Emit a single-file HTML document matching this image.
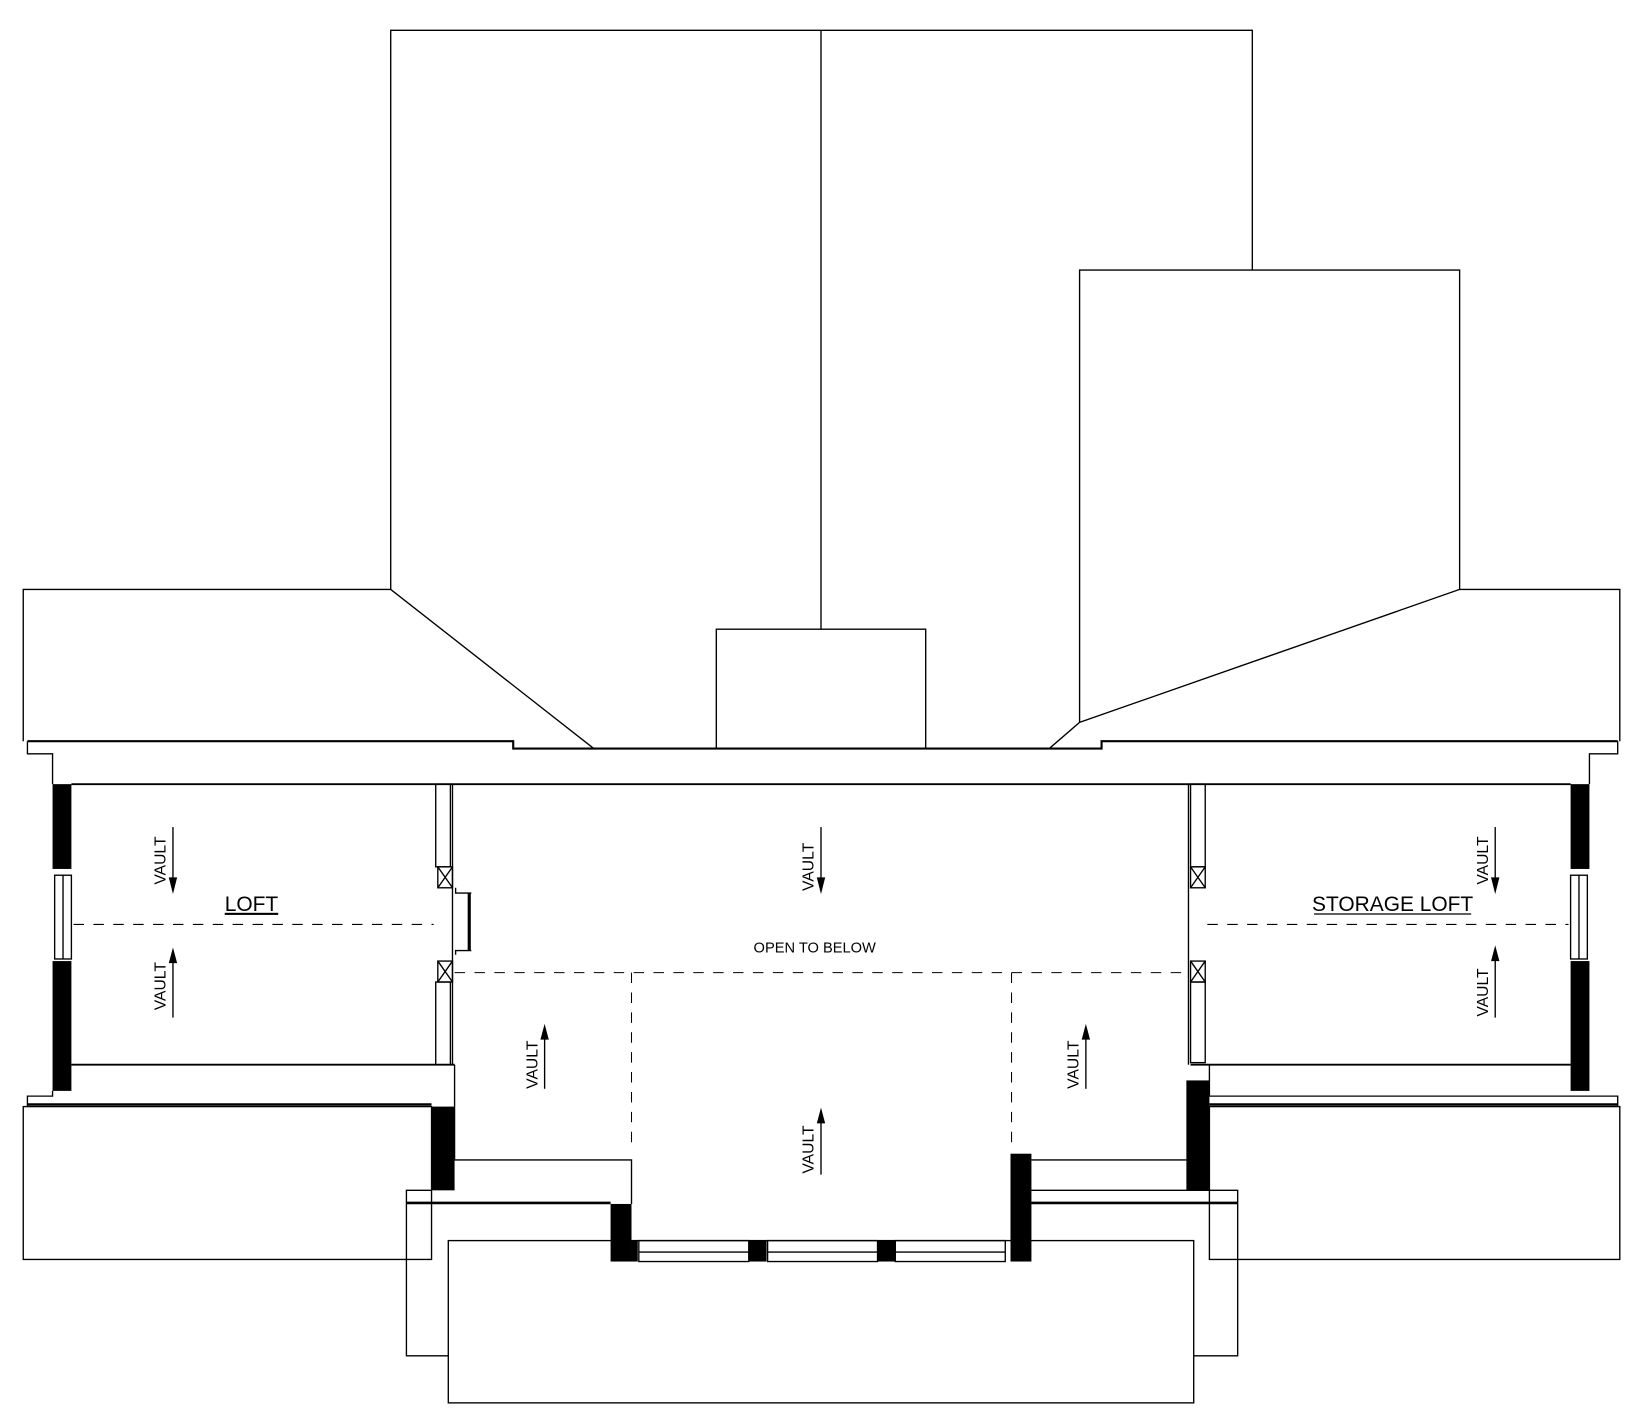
<!DOCTYPE html>
<html><head><meta charset="utf-8"><style>
html,body{margin:0;padding:0;background:#fff;}
svg{display:block;}
text{font-family:"Liberation Sans",sans-serif;fill:#000;}
</style></head><body>
<svg width="1642" height="1428" viewBox="0 0 1568 1364" xmlns="http://www.w3.org/2000/svg">
<g fill="none" stroke="#000" stroke-width="1.3">
<!-- top roof -->
<path d="M373,563 L373,29 L1196,29 L1196,258"/>
<line x1="784" y1="29" x2="784" y2="601"/>
<path d="M1031,690 L1031,258 L1394,258 L1394,563"/>
<!-- wide band -->
<path d="M22,708 L22,563 L373,563 L567,715"/>
<path d="M1002,715 L1031,690 L1394,563 L1547,563 L1547,708"/>
<rect x="684" y="601" width="200" height="114"/>
<!-- eave lines -->
<path d="M26,708 L490,708 L490,715 L1052,715 L1052,708 L1545,708" stroke-width="2"/>
<path d="M26,708 L26,720 L50,720 L50,749"/>
<path d="M1545,708 L1545,720 L1518,720 L1518,749"/>
<line x1="68" y1="749" x2="1500" y2="749" stroke-width="1.8"/>
<!-- left loft -->
<line x1="68" y1="1017" x2="434" y2="1017" stroke-width="1.8"/>
<line x1="434" y1="1017" x2="434" y2="1057"/>
<rect x="416" y="749" width="14" height="79"/>
<rect x="416" y="938" width="14" height="79"/>
<line x1="432" y1="749" x2="432" y2="1017"/>
<rect x="418" y="828" width="14" height="20"/><path d="M418,828 L432,848 M432,828 L418,848"/>
<rect x="418" y="918" width="14" height="20"/><path d="M418,918 L432,938 M432,918 L418,938"/>
<path d="M435,848 L435,853 L450,853 M435,912 L435,908 L450,908"/>
<line x1="448" y1="853" x2="448" y2="908" stroke-width="3"/>
<!-- left lower -->
<path d="M26,1057 L26,1047 L50,1047 L50,1042"/>
<line x1="26" y1="1055" x2="412" y2="1055" stroke-width="2.5"/>
<rect x="22" y="1057" width="390" height="146"/>
<!-- right loft -->
<rect x="1137" y="749" width="14" height="79"/>
<rect x="1137" y="938" width="14" height="77"/>
<line x1="1135" y1="749" x2="1135" y2="1017"/>
<rect x="1137" y="828" width="14" height="20"/><path d="M1137,828 L1151,848 M1151,828 L1137,848"/>
<rect x="1137" y="918" width="14" height="20"/><path d="M1137,918 L1151,938 M1151,918 L1137,938"/>
<line x1="1137" y1="1017" x2="1500" y2="1017" stroke-width="1.8"/>
<path d="M1155,1017 L1155,1047 L1545,1047 L1545,1057"/>
<line x1="1155" y1="1055" x2="1545" y2="1055" stroke-width="2.5"/>
<rect x="1155" y="1057" width="392" height="146"/>
<!-- center lower -->
<path d="M434,1057 L434,1108 L603,1108 L603,1150"/>
<path d="M985,1108 L1133,1108"/>
<path d="M985,1137 L1182,1137 L1182,1150"/>
<path d="M388,1150 L388,1137 L412,1137"/>
<line x1="388" y1="1149" x2="583" y2="1149" stroke-width="2.5"/>
<line x1="985" y1="1149" x2="1182" y2="1149" stroke-width="2.5"/>
<path d="M388,1150 L388,1295 L428,1295 M1140,1295 L1182,1295 L1182,1150"/>
<rect x="428" y="1185" width="712" height="155"/>
<!-- windows -->
<rect x="610" y="1185" width="105" height="20"/><line x1="610" y1="1196" x2="715" y2="1196"/>
<rect x="733" y="1185" width="105" height="20"/><line x1="733" y1="1196" x2="838" y2="1196"/>
<rect x="855" y="1185" width="105" height="20"/><line x1="855" y1="1196" x2="960" y2="1196"/>
<rect x="52" y="836" width="16" height="80"/><line x1="60" y1="836" x2="60" y2="916"/>
<rect x="1500" y="836" width="16" height="80"/><line x1="1508" y1="836" x2="1508" y2="916"/>
<!-- dashed -->
<g stroke-dasharray="10,9" stroke-width="1">
<line x1="70" y1="883" x2="414" y2="883"/>
<line x1="1153" y1="883" x2="1498" y2="883"/>
<line x1="434" y1="929" x2="1135" y2="929"/>
<line x1="603" y1="929" x2="603" y2="1100"/>
<line x1="966" y1="929" x2="966" y2="1100"/>
</g>
</g>
<!-- black walls -->
<g fill="#000">
<rect x="50" y="749" width="18" height="81"/>
<rect x="50" y="918" width="18" height="124"/>
<rect x="1500" y="749" width="18" height="81"/>
<rect x="1500" y="918" width="18" height="124"/>
<rect x="412" y="1057" width="22" height="80"/>
<rect x="1133" y="1032" width="22" height="105"/>
<rect x="583" y="1150" width="20" height="55"/>
<rect x="603" y="1185" width="6" height="20"/>
<rect x="715" y="1185" width="17" height="20"/>
<rect x="838" y="1185" width="17" height="20"/>
<rect x="965" y="1102" width="20" height="103"/>
</g>
<!-- arrows -->
<g stroke="#000" stroke-width="1.3">
<line x1="165" y1="790" x2="165" y2="840"/><line x1="165" y1="918" x2="165" y2="972"/>
<line x1="784" y1="790" x2="784" y2="840"/>
<line x1="520" y1="990" x2="520" y2="1040"/>
<line x1="1037" y1="990" x2="1037" y2="1040"/>
<line x1="784" y1="1070" x2="784" y2="1122"/>
<line x1="1428" y1="790" x2="1428" y2="840"/><line x1="1428" y1="915" x2="1428" y2="972"/>
</g>
<g fill="#000">
<path d="M161,838 L169,838 L165,854Z"/><path d="M161,920 L169,920 L165,905Z"/>
<path d="M780,838 L788,838 L784,854Z"/>
<path d="M516,993 L524,993 L520,978Z"/>
<path d="M1033,993 L1041,993 L1037,978Z"/>
<path d="M780,1073 L788,1073 L784,1058Z"/>
<path d="M1424,838 L1432,838 L1428,854Z"/><path d="M1424,918 L1432,918 L1428,903Z"/>
</g>
<g font-size="15">
<text transform="translate(158,822) rotate(-90)" text-anchor="middle">VAULT</text>
<text transform="translate(158,942) rotate(-90)" text-anchor="middle">VAULT</text>
<text transform="translate(777,828) rotate(-90)" text-anchor="middle">VAULT</text>
<text transform="translate(513,1017) rotate(-90)" text-anchor="middle">VAULT</text>
<text transform="translate(1030,1017) rotate(-90)" text-anchor="middle">VAULT</text>
<text transform="translate(777,1098) rotate(-90)" text-anchor="middle">VAULT</text>
<text transform="translate(1421,822) rotate(-90)" text-anchor="middle">VAULT</text>
<text transform="translate(1421,948) rotate(-90)" text-anchor="middle">VAULT</text>
</g>
<text x="778" y="910" font-size="14" text-anchor="middle">OPEN TO BELOW</text>
<text x="240" y="870" font-size="20" text-anchor="middle" text-decoration="underline">LOFT</text>
<line x1="217" y1="873" x2="264" y2="873" stroke="#000" stroke-width="1.2"/>
<text x="1330" y="870" font-size="20" text-anchor="middle">STORAGE LOFT</text>
<line x1="1255" y1="873" x2="1405" y2="873" stroke="#000" stroke-width="1.2"/>
</svg>
</body></html>
